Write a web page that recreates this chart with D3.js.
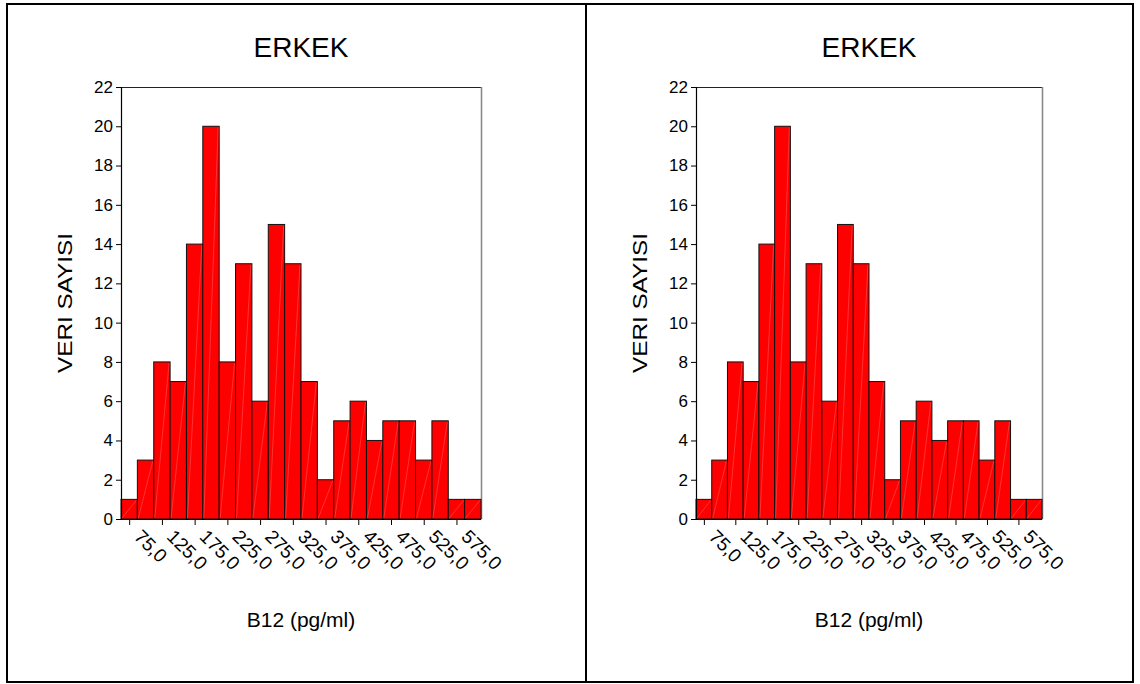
<!DOCTYPE html>
<html>
<head>
<meta charset="utf-8">
<script src="https://cdn.jsdelivr.net/npm/d3@7/dist/d3.min.js"></script>
<style>
  html, body { margin: 0; padding: 0; background: #fff; }
  svg { display: block; font-family: "Liberation Sans", Arial, sans-serif; }
</style>
</head>
<body>
<svg id="chart" width="1140" height="684"></svg>
<script>
// Histogram data: bin midpoints (pg/ml) and counts per bin
const binMids = [75, 100, 125, 150, 175, 200, 225, 250, 275, 300, 325,
                 350, 375, 400, 425, 450, 475, 500, 525, 550, 575, 600];
const counts  = [1, 3, 8, 7, 14, 20, 8, 13, 6, 15, 13,
                 7, 2, 5, 6, 4, 5, 5, 3, 5, 1, 1];
const binWidth = 25;
const xTickValues = [75, 125, 175, 225, 275, 325, 375, 425, 475, 525, 575];
const xTickLabels = ["75,0", "125,0", "175,0", "225,0", "275,0", "325,0",
                     "375,0", "425,0", "475,0", "525,0", "575,0"];
const yTickValues = [0, 2, 4, 6, 8, 10, 12, 14, 16, 18, 20, 22];
const chartTitle = "ERKEK";
const xTitle = "B12 (pg/ml)";
const yTitle = "VERI SAYISI";

const svg = d3.select("#chart");

// Outer table frame with a divider between the two cells
svg.append("rect")
  .attr("x", 7).attr("y", 4).attr("width", 1126).attr("height", 678)
  .attr("fill", "none").attr("stroke", "#000").attr("stroke-width", 2);
svg.append("line")
  .attr("x1", 586).attr("x2", 586).attr("y1", 4).attr("y2", 683)
  .attr("stroke", "#000").attr("stroke-width", 2);

function drawPanel(p) {
  const g = svg.append("g");
  const x = d3.scaleLinear()
    .domain([binMids[0] - binWidth / 2, binMids[binMids.length - 1] + binWidth / 2])
    .range([p.left, p.right]);
  const y = d3.scaleLinear().domain([0, 22]).range([p.bottom, p.top]);

  // Plot frame: dark top edge, grey right edge
  g.append("line")
    .attr("x1", p.left).attr("x2", p.right).attr("y1", p.top + 0.5).attr("y2", p.top + 0.5)
    .attr("stroke", "#222").attr("stroke-width", 1.2);
  g.append("line")
    .attr("x1", p.right + 0.5).attr("x2", p.right + 0.5).attr("y1", p.top).attr("y2", p.bottom)
    .attr("stroke", "#8a8a8a").attr("stroke-width", 1.6);

  // Bars
  const bars = g.append("g").selectAll("g.bar")
    .data(binMids.map((m, i) => ({ mid: m, n: counts[i] })))
    .join("g").attr("class", "bar");
  bars.append("rect")
    .attr("x", d => x(d.mid - binWidth / 2))
    .attr("y", d => y(d.n))
    .attr("width", d => x(d.mid + binWidth / 2) - x(d.mid - binWidth / 2))
    .attr("height", d => y(0) - y(d.n))
    .attr("fill", "#ff0000")
    .attr("stroke", "#111")
    .attr("stroke-width", 1);
  // faint diagonal hatch stroke inside each bar
  bars.append("line")
    .attr("x1", d => x(d.mid - binWidth / 2) + 1)
    .attr("y1", d => y(0) - 1)
    .attr("x2", d => x(d.mid + binWidth / 2) - 1)
    .attr("y2", d => y(d.n) + 1)
    .attr("stroke", "#ff8c8c")
    .attr("stroke-width", 0.6)
    .attr("opacity", 0.6);

  // Y axis
  const yAxis = d3.axisLeft(y).tickValues(yTickValues).tickSize(5).tickPadding(3)
    .tickFormat(d3.format("d"));
  const ya = g.append("g").attr("transform", `translate(${p.left},0)`).call(yAxis);
  ya.select(".domain").attr("stroke", "#000").attr("stroke-width", 1.2);
  ya.selectAll(".tick line").attr("stroke", "#000");
  ya.selectAll(".tick text")
    .attr("font-size", 17).attr("fill", "#000")
    .style("font-family", "'Liberation Sans', Arial, sans-serif");

  // X axis with rotated labels
  const xAxis = d3.axisBottom(x).tickValues(xTickValues).tickSize(6)
    .tickFormat((d, i) => xTickLabels[i]);
  const xa = g.append("g").attr("transform", `translate(0,${p.bottom})`).call(xAxis);
  xa.select(".domain").attr("d", `M${p.left - 5},0.5H${p.right}`)
    .attr("stroke", "#000").attr("stroke-width", 1.2);
  xa.selectAll(".tick line").attr("stroke", "#000");
  xa.selectAll(".tick text")
    .attr("font-size", 19).attr("fill", "#000")
    .style("font-family", "'Liberation Sans', Arial, sans-serif")
    .attr("text-anchor", "start")
    .attr("x", 0).attr("y", 0).attr("dy", "0.72em")
    .attr("transform", "translate(13,9) rotate(45)");

  // Titles
  const cx = (p.left + p.right) / 2;
  g.append("text").attr("x", cx).attr("y", 57)
    .attr("text-anchor", "middle").attr("font-size", 28).attr("fill", "#000")
    .text(chartTitle);
  g.append("text").attr("x", cx).attr("y", 627)
    .attr("text-anchor", "middle").attr("font-size", 21).attr("fill", "#000")
    .text(xTitle);
  g.append("text")
    .attr("transform", `translate(${p.yTitleX},${(p.top + p.bottom) / 2}) rotate(-90)`)
    .attr("text-anchor", "middle").attr("font-size", 20).attr("fill", "#000")
    .attr("textLength", 140).attr("lengthAdjust", "spacingAndGlyphs")
    .text(yTitle);
}

drawPanel({ left: 121, right: 481, top: 87, bottom: 519, yTitleX: 72 });
drawPanel({ left: 696, right: 1042, top: 87, bottom: 519, yTitleX: 647 });
</script>
</body>
</html>
